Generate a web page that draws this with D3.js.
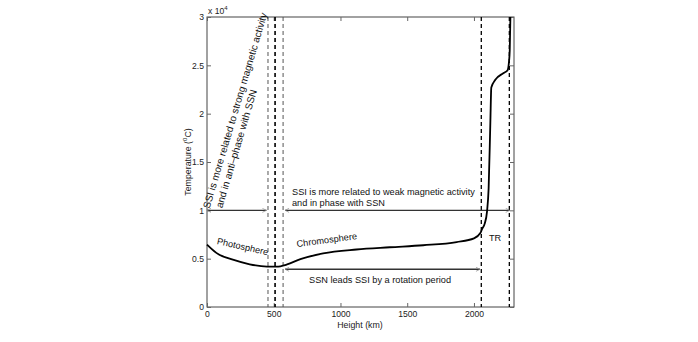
<!DOCTYPE html>
<html><head><meta charset="utf-8">
<script src="https://cdn.jsdelivr.net/npm/d3@7"></script>
<style>
body{margin:0;background:#fff;}
svg text{font-family:"Liberation Sans",Arial,Helvetica,sans-serif;}
</style></head>
<body><svg id="c" width="698" height="342"></svg>
<script>
// ---- data ----
const heightKm = [0, 70, 200, 320, 450, 520, 600, 700, 750, 870, 1120, 1370, 1620, 1870, 2000, 2048, 2062, 2080, 2098, 2110, 2123, 2130, 2160, 2222, 2252, 2262, 2268, 2273];
const temperature = [6450, 5600, 4870, 4420, 4180, 4170, 4400, 4950, 5150, 5550, 5950, 6180, 6390, 6720, 7100, 7650, 8100, 8600, 9900, 12300, 19200, 22700, 23500, 24200, 24500, 25300, 26500, 30000];
const dashedLines = [457, 510, 570, 2055, 2265];
const xTicks = [0, 500, 1000, 1500, 2000];
const yTicks = [0, 5000, 10000, 15000, 20000, 25000, 30000];
const yTickLabels = ["0", "0.5", "1", "1.5", "2", "2.5", "3"];
const arrows = [
  {x1: 0, x2: 445, t: 10000},
  {x1: 585, x2: 2268, t: 10000},
  {x1: 585, x2: 2045, t: 3900}
];

const svg = d3.select("#c");
const x = d3.scaleLinear().domain([0, 2300]).range([207, 514]);
const y = d3.scaleLinear().domain([0, 30000]).range([307, 17]);
const fs = 9.2, afs = 8.6;

// markers
const defs = svg.append("defs");
defs.append("marker").attr("id","ah").attr("viewBox","0 0 10 10").attr("refX",9).attr("refY",5)
  .attr("markerWidth",5).attr("markerHeight",5).attr("markerUnits","userSpaceOnUse").attr("orient","auto-start-reverse")
  .append("path").attr("d","M1,1 L9,5 L1,9").attr("fill","none").attr("stroke","#888").attr("stroke-width",1.4);

// frame
svg.append("rect").attr("x",x(0)).attr("y",y(30000)).attr("width",x(2300)-x(0)).attr("height",y(0)-y(30000))
  .attr("fill","none").attr("stroke","#444").attr("stroke-width",1);

// axes
const gx = svg.append("g").attr("transform",`translate(0,${y(0)})`)
  .call(d3.axisBottom(x).tickValues(xTicks).tickSize(-4).tickPadding(4).tickFormat(d3.format("d")));
const gxt = svg.append("g").attr("transform",`translate(0,${y(30000)})`)
  .call(d3.axisTop(x).tickValues(xTicks).tickSize(-4).tickFormat(""));
const gy = svg.append("g").attr("transform",`translate(${x(0)},0)`)
  .call(d3.axisLeft(y).tickValues(yTicks).tickSize(-4).tickPadding(3).tickFormat((d,i)=>yTickLabels[i]));
const gyr = svg.append("g").attr("transform",`translate(${x(2300)},0)`)
  .call(d3.axisRight(y).tickValues(yTicks).tickSize(-4).tickFormat(""));
[gx,gxt,gy,gyr].forEach(g=>{
  g.select(".domain").remove();
  g.selectAll(".tick line").attr("stroke","#666");
  g.selectAll("text").attr("font-size",afs).attr("fill","#222").style("font-family","Liberation Sans, Arial, sans-serif");
});

// exponent
const ex = svg.append("text").attr("x",208).attr("y",14).attr("font-size",afs).attr("fill","#222");
ex.append("tspan").text("x 10");
ex.append("tspan").attr("dy",-4).attr("font-size",6).text("4");

// axis labels
svg.append("text").attr("x",360).attr("y",328).attr("text-anchor","middle").attr("font-size",afs+0.2).attr("fill","#222").text("Height (km)");
const yl = svg.append("text").attr("transform",`translate(191,162) rotate(-90)`).attr("text-anchor","middle").attr("font-size",afs+0.2).attr("fill","#222");
yl.append("tspan").text("Temperature (");
yl.append("tspan").attr("dy",-4).attr("font-size",6).text("0");
yl.append("tspan").attr("dy",4).text("C)");

// dashed lines
dashedLines.forEach((d,i)=>{
  const strong = (i===1||i===3||i===4);
  svg.append("line").attr("x1",x(d)).attr("x2",x(d)).attr("y1",y(30000)).attr("y2",y(0))
    .attr("stroke", strong ? "#000" : "#555").attr("stroke-width", i===1 ? 1.6 : (strong?1.3:1))
    .attr("stroke-dasharray", "4,3");
});

// arrows
arrows.forEach(a=>{
  svg.append("line").attr("x1",x(a.x1)).attr("x2",x(a.x2)).attr("y1",y(a.t)).attr("y2",y(a.t))
    .attr("stroke","#333").attr("stroke-width",1.4)
    .attr("marker-start","url(#ah)").attr("marker-end","url(#ah)");
});

// curve
const pts = heightKm.map((h,i)=>[h, temperature[i]]);
svg.append("path").datum(pts)
  .attr("d", d3.line().x(d=>x(d[0])).y(d=>y(d[1])).curve(d3.curveMonotoneX))
  .attr("fill","none").attr("stroke","#000").attr("stroke-width",1.8);

// annotations
const t = (px,py,txt,rot,anchor)=>svg.append("text").attr("transform",`translate(${px},${py}) rotate(${rot||0})`)
  .attr("text-anchor",anchor||"start").attr("font-size",fs).attr("fill","#111").text(txt);
t(216.5,244,"Photosphere",12.5);
t(297,247,"Chromosphere",-7.5);
t(489,241,"TR",0);
t(292,195,"SSI is more related to weak magnetic activity",0);
t(292,206,"and in phase with SSN",0);
t(380,283,"SSN leads SSI by a rotation period",0,"middle");
const rg = svg.append("g").attr("transform","translate(209.5,209) rotate(-73.5)");
rg.append("text").attr("x",0).attr("y",0).attr("font-size",10).attr("fill","#111").text("SSI is more related to strong magnetic activity");
rg.append("text").attr("x",4).attr("y",12).attr("font-size",10).attr("fill","#111").text("and in anti\u2013phase with SSN");
</script></body></html>
